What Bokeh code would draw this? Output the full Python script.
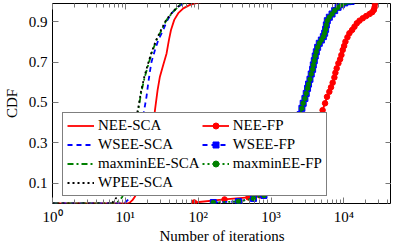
from bokeh.plotting import figure
from bokeh.models import (Range1d, FixedTicker, LogAxis, LinearAxis, Legend, LegendItem)
from bokeh.embed import file_html
from bokeh.resources import INLINE

# ---------------- data ----------------
nee_sca_x = [1, 10.9, 11.8, 12.6, 13.5, 15, 17, 19, 21, 23, 24.1, 25.5, 27.7, 29.8, 33.1, 36.8,
             39.6, 42.3, 46.9, 53.2, 62.4, 77, 100, 123]
nee_sca_y = [0, 0, 0.008, 0.018, 0.033, 0.07, 0.13, 0.2, 0.27, 0.34, 0.38, 0.462, 0.561, 0.628,
             0.686, 0.743, 0.809, 0.859, 0.909, 0.942, 0.966, 0.983, 0.994, 1.0]

wsee_sca_x = [1, 8.8, 10, 11, 12, 13, 14, 15, 16, 17.6, 18.5, 19.5, 20.6, 21.7, 22.9, 25.5,
              28.3, 33.1, 36.8, 43, 53.2, 65.8, 75]
wsee_sca_y = [0, 0, 0.005, 0.02, 0.05, 0.1, 0.17, 0.25, 0.33, 0.437, 0.48, 0.528, 0.595, 0.652,
              0.702, 0.76, 0.809, 0.859, 0.9, 0.942, 0.974, 0.994, 1.0]

maxmin_sca_x = [1, 7, 8, 9, 10, 11, 12, 13, 14.5, 15, 16.6, 18.5, 20.6, 22.9, 26.8, 31.4, 36.8,
                45.4, 56.2, 73]
maxmin_sca_y = [0, 0, 0.01, 0.03, 0.07, 0.13, 0.21, 0.3, 0.437, 0.462, 0.553, 0.628, 0.686,
                0.743, 0.809, 0.859, 0.909, 0.95, 0.983, 1.0]

wpee_sca_x = [1, 6.5, 7.2, 8, 9, 10, 11, 12, 13, 14.3, 15, 16.4, 18.3, 20.4, 22.7, 26.5, 31,
              36.5, 45, 56, 72]
wpee_sca_y = [0, 0, 0.02, 0.04, 0.08, 0.13, 0.2, 0.28, 0.36, 0.437, 0.47, 0.555, 0.63, 0.69,
              0.745, 0.81, 0.86, 0.91, 0.95, 0.983, 1.0]

nee_fp_x = [88, 230, 490, 700, 1000, 1400, 1900, 2500, 3000, 3500, 4000, 4500, 4800, 5100, 5510,
            5860, 6310, 6650, 7010, 7400, 7640, 7960, 8400, 8870, 9240, 9630, 10070, 10490,
            11180, 11900, 12970, 13960, 15030, 16370, 18170, 20230, 22490, 24490, 25770, 26360,
            26600, 26900]
nee_fp_y = [0.005, 0.02, 0.03, 0.04, 0.06, 0.09, 0.13, 0.18, 0.23, 0.28, 0.33, 0.39, 0.43, 0.462,
            0.496, 0.528, 0.553, 0.575, 0.598, 0.624, 0.647, 0.669, 0.694, 0.714, 0.735, 0.76,
            0.78, 0.801, 0.823, 0.843, 0.859, 0.875, 0.892, 0.905, 0.917, 0.928, 0.938, 0.947,
            0.958, 0.971, 0.988, 0.999]

wsee_fp_x = [161, 356, 573, 800, 1100, 1400, 1700, 2000, 2250, 2500, 2650, 2760, 2915, 3040, 3170,
             3270, 3420, 3560, 3720, 3800, 3920, 4040, 4180, 4360, 4590, 4900, 5220, 5440, 5610,
             5740, 5920, 6310, 6870, 7470, 8320, 9240, 10260, 11430, 12560]
wsee_fp_y = [0.005, 0.01, 0.025, 0.04, 0.07, 0.12, 0.2, 0.3, 0.38, 0.44, 0.471, 0.496, 0.52,
             0.545, 0.57, 0.591, 0.615, 0.641, 0.664, 0.686, 0.707, 0.73, 0.751, 0.773, 0.793,
             0.809, 0.826, 0.843, 0.862, 0.884, 0.905, 0.922, 0.938, 0.955, 0.971, 0.984, 0.993,
             0.999, 1.0]

maxmin_fp_x = [161, 356, 573, 800, 1100, 1400, 1700, 2000, 2250, 2500, 2650, 2760, 2915, 3040,
               3170, 3270, 3420, 3560, 3720, 3800, 3920, 4040, 4180, 4360, 4590, 4900, 5220, 5440,
               5610, 5740, 5920, 6310, 6870, 7470, 8320, 9240, 10260, 11430, 12560]
maxmin_fp_y = [0.005, 0.01, 0.025, 0.04, 0.07, 0.12, 0.2, 0.3, 0.38, 0.44, 0.471, 0.496, 0.52,
               0.545, 0.57, 0.591, 0.615, 0.641, 0.664, 0.686, 0.707, 0.73, 0.751, 0.773, 0.793,
               0.809, 0.826, 0.843, 0.862, 0.884, 0.905, 0.922, 0.938, 0.955, 0.971, 0.984,
               0.993, 0.999, 1.0]

x_ticks = [1, 10, 100, 1000, 10000]
x_tick_labels = ["10\u2070", "10\u00b9", "10\u00b2", "10\u00b3", "10\u2074"]
y_ticks = [0.1, 0.3, 0.5, 0.7, 0.9]
y_tick_labels = ["0.1", "0.3", "0.5", "0.7", "0.9"]

# ---------------- figure ----------------
FONT = "Liberation Serif"
RED, BLUE, GREEN = "#ff0000", "#0000ff", "#008000"

p = figure(width=391, height=250, x_axis_type="log",
           x_range=Range1d(1, 45000), y_range=Range1d(0, 0.99),
           output_backend="svg", toolbar_location=None,
           min_border_left=46, min_border_right=0, min_border_top=3, min_border_bottom=47)
p.xgrid.visible = False
p.ygrid.visible = False
p.outline_line_color = "black"
p.outline_line_width = 1
p.background_fill_color = "white"
p.border_fill_color = "white"

minor = [m * d for d in [1, 10, 100, 1000, 10000] for m in range(2, 10)]
xticker = FixedTicker(ticks=x_ticks, minor_ticks=minor)
yticker = FixedTicker(ticks=y_ticks, minor_ticks=[])


def style_axis(ax, labels=True):
    ax.axis_line_color = None
    ax.major_tick_in = 6
    ax.major_tick_out = 0
    ax.minor_tick_in = 4
    ax.minor_tick_out = 0
    ax.major_tick_line_color = "#777777"
    ax.minor_tick_line_color = "#777777"
    if labels:
        ax.major_label_text_font = FONT
        ax.major_label_text_font_size = "15px"
        ax.major_label_text_color = "black"
        ax.axis_label_text_font = FONT
        ax.axis_label_text_font_size = "15px"
        ax.axis_label_text_font_style = "normal"
        ax.axis_label_text_color = "black"
    else:
        ax.major_label_text_font_size = "1px"
        ax.major_label_text_alpha = 0
        ax.major_label_standoff = 0
        ax.axis_label_standoff = 0


xa = p.xaxis[0]
xa.ticker = xticker
xa.major_label_overrides = dict(zip(x_ticks, x_tick_labels))
xa.axis_label = "Number of iterations"
xa.major_label_standoff = 5
xa.axis_label_standoff = 0
style_axis(xa)

ya = p.yaxis[0]
ya.ticker = yticker
ya.major_label_overrides = dict(zip(y_ticks, y_tick_labels))
ya.axis_label = "CDF"
ya.major_label_standoff = 5
ya.axis_label_standoff = 6
style_axis(ya)

top = LogAxis(ticker=xticker)
style_axis(top, labels=False)
p.add_layout(top, "above")
right = LinearAxis(ticker=yticker)
style_axis(right, labels=False)
p.add_layout(right, "right")

LW = 1.8
r1 = p.line(nee_sca_x, nee_sca_y, line_color=RED, line_width=LW)
r2 = p.line(wsee_sca_x, wsee_sca_y, line_color=BLUE, line_width=LW, line_dash="5 4")
r3 = p.line(maxmin_sca_x, maxmin_sca_y, line_color=GREEN, line_width=LW, line_dash="6 3 2 3")
r4 = p.line(wpee_sca_x, wpee_sca_y, line_color="black", line_width=LW, line_dash="2 3")

r5 = p.line(nee_fp_x, nee_fp_y, line_color=RED, line_width=LW)
r5m = p.scatter(nee_fp_x, nee_fp_y, marker="circle", size=5.5, fill_color=RED, line_color=RED)
r6 = p.line(wsee_fp_x, wsee_fp_y, line_color=BLUE, line_width=LW, line_dash="5 4")
r6m = p.scatter(wsee_fp_x, wsee_fp_y, marker="square", size=6, fill_color=BLUE, line_color=BLUE)
r7 = p.line(maxmin_fp_x, maxmin_fp_y, line_color=GREEN, line_width=LW, line_dash="2 3")
r7m = p.scatter(maxmin_fp_x, maxmin_fp_y, marker="circle", size=4.5, fill_color=GREEN,
                line_color=GREEN)

legend = Legend(items=[
    LegendItem(label="NEE-SCA", renderers=[r1]),
    LegendItem(label="WSEE-SCA", renderers=[r2]),
    LegendItem(label="maxminEE-SCA", renderers=[r3]),
    LegendItem(label="WPEE-SCA", renderers=[r4]),
    LegendItem(label="NEE-FP", renderers=[r5, r5m]),
    LegendItem(label="WSEE-FP", renderers=[r6, r6m]),
    LegendItem(label="maxminEE-FP", renderers=[r7, r7m]),
], ncols=2, location=(10, 7))
legend.label_text_font = FONT
legend.label_text_font_size = "15px"
legend.label_text_color = "black"
legend.glyph_width = 27
legend.glyph_height = 15
legend.label_height = 15
legend.label_standoff = 4
legend.spacing = 2
legend.padding = 4
legend.margin = 0
legend.border_line_color = "black"
legend.border_line_width = 1
legend.background_fill_alpha = 1.0
p.add_layout(legend, "center")

open("out.html", "w").write(file_html(p, INLINE))
